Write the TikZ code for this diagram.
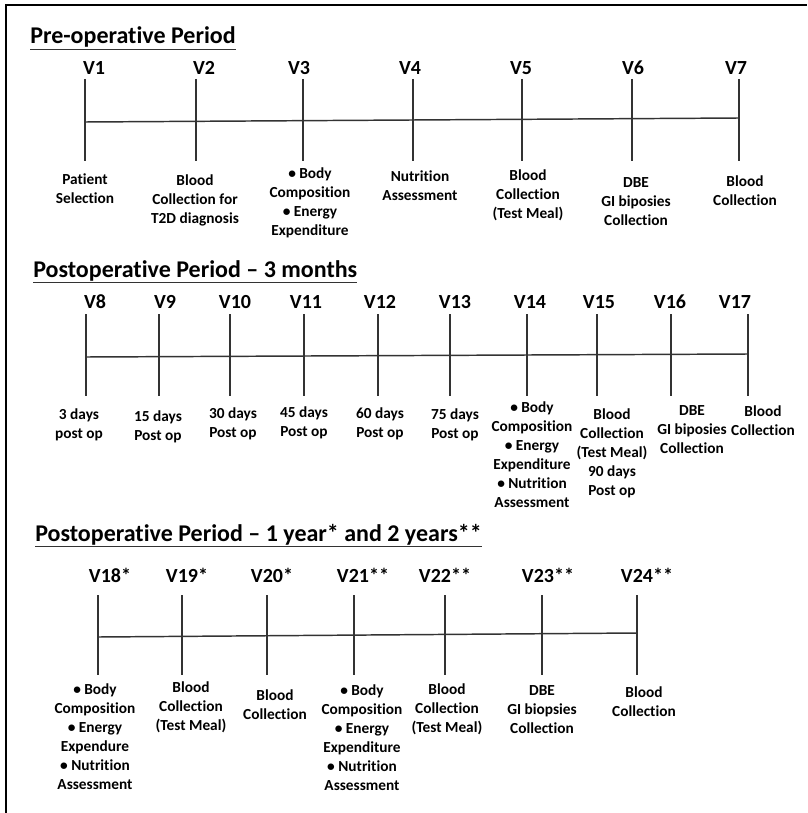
\documentclass[tikz,border=0pt]{standalone}
\usepackage{fontspec}
\setmainfont{Carlito}[Ligatures={TeX,NoCommon}]
\tikzset{
  period/.style={font=\bfseries\fontsize{18}{21.5}\selectfont, inner sep=0pt, anchor=base west},
  visit/.style={font=\bfseries\fontsize{15}{18}\selectfont, inner sep=0pt},
  note/.style={font=\bfseries\fontsize{11.5}{14.25}\selectfont, align=center, inner sep=0pt},
  axis/.style={line width=1.1pt, black!80},
  uline/.style={line width=1.1pt, black!80},
}
\begin{document}
\begin{tikzpicture}[x=0.75pt,y=-0.75pt]
\useasboundingbox (0,0) rectangle (807,813);
\draw[line width=1.5pt] (6,813) -- (6,5) -- (807,5);

% Pre-operative period
\node[period] (pre) at (30,44) {Pre-operative Period};
\draw[uline] ([yshift=-4pt]pre.base west) -- ([yshift=-4pt]pre.base east);

\coordinate (preL) at (85,122);
\coordinate (preR) at (739,118);
\draw[axis] (preL) -- (preR);

\foreach \n/\x/\lx in {1/85/94, 2/196/204, 3/303/299, 4/413/410, 5/522/521, 6/632/633, 7/739/736}
{
    \coordinate (v\n t) at (\x,79);
    \coordinate (v\n b) at (\x,161);
    \draw[axis] (v\n t) -- (v\n b);
    \node[visit] (v\n) at (\lx,68) {V\n};
}

\node[note] (n1) at (85,188.5) {Patient\\Selection};
\node[note] (n2) at (195,200.5) {Blood\\Collection for\\T2D diagnosis};
\node[note] (n3) at (310,203) {• Body\\Composition\\• Energy\\Expenditure};
\node[note] (n4) at (420,186) {Nutrition\\Assessment};
\node[note] (n5) at (528,195.5) {Blood\\Collection\\(Test Meal)};
\node[note] (n6) at (636,201.5) {DBE\\GI biposies\\Collection};
\node[note] (n7) at (745,190.5) {Blood\\Collection};

% Postoperative period - 3 months
\node[period] (post3) at (33,277) {Postoperative Period – 3 months};
\draw[uline] ([yshift=-4pt]post3.base west) -- ([yshift=-4pt]post3.base east);

\coordinate (post3L) at (86,357);
\coordinate (post3R) at (748,354);
\draw[axis] (post3L) -- (post3R);

\foreach \n/\x/\lx in {8/86/95, 9/159/165, 10/230/235, 11/304/306, 12/378/380,
                       13/450/455, 14/527/530, 15/597/599, 16/671/670, 17/748/735}
{
    \coordinate (v\n t) at (\x,314);
    \coordinate (v\n b) at (\x,396);
    \draw[axis] (v\n t) -- (v\n b);
    \node[visit] (v\n) at (\lx,302) {V\n};
}

\node[note] (n8)  at (79,424.5) {3 days\\post op};
\node[note] (n9)  at (158,426.5) {15 days\\Post op};
\node[note] (n10) at (233,424) {30 days\\Post op};
\node[note] (n11) at (304,422.5) {45 days\\Post op};
\node[note] (n12) at (380,424) {60 days\\Post op};
\node[note] (n13) at (455,425) {75 days\\Post op};
\node[note] (n14) at (532,455) {• Body\\Composition\\• Energy\\Expenditure\\• Nutrition\\Assessment};
\node[note] (n15) at (612,453) {Blood\\Collection\\(Test Meal)\\90 days\\Post op};
\node[note] (n16) at (692,430) {DBE\\GI biposies\\Collection};
\node[note] (n17) at (763,421) {Blood\\Collection};

% Postoperative period - 1 and 2 years
\node[period] (post12) at (35,541) {Postoperative Period – 1 year* and 2 years**};
\draw[uline] ([yshift=-4pt]post12.base west) -- ([yshift=-4pt]post12.base east);

\coordinate (post12L) at (98,637);
\coordinate (post12R) at (637,633);
\draw[axis] (post12L) -- (post12R);

\foreach \n/\x/\lx/\s in {18/98/110/*, 19/182/187/*, 20/267/272/*, 21/354/363/**,
                          22/445/445/**, 23/542/548/**, 24/637/647/**}
{
    \coordinate (v\n t) at (\x,595);
    \coordinate (v\n b) at (\x,675);
    \draw[axis] (v\n t) -- (v\n b);
    \node[visit] (v\n) at (\lx,575) {V\n\s};
}

\node[note] (n18) at (95,736.5) {• Body\\Composition\\• Energy\\Expendure\\• Nutrition\\Assessment};
\node[note] (n19) at (191,707) {Blood\\Collection\\(Test Meal)};
\node[note] (n20) at (275,704.5) {Blood\\Collection};
\node[note] (n21) at (362,737.5) {• Body\\Composition\\• Energy\\Expenditure\\• Nutrition\\Assessment};
\node[note] (n22) at (447,709) {Blood\\Collection\\(Test Meal)};
\node[note] (n23) at (542,709.5) {DBE\\GI biopsies\\Collection};
\node[note] (n24) at (644,701.5) {Blood\\Collection};
\end{tikzpicture}
\end{document}
